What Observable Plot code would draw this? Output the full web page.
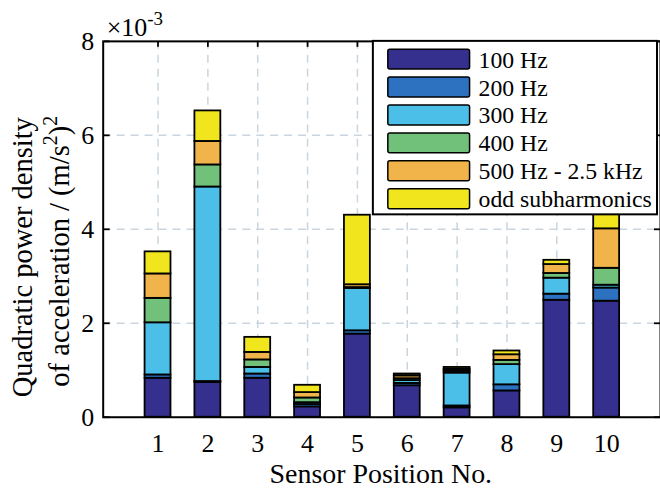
<!DOCTYPE html>
<html><head><meta charset="utf-8">
<script src="https://cdn.jsdelivr.net/npm/d3@7"></script>
<script src="https://cdn.jsdelivr.net/npm/@observablehq/plot@0.6"></script>
<style>
html,body{margin:0;padding:0;background:#fff;overflow:hidden;width:660px;height:489px;}
</style></head><body><div id="chart"></div>
<script>
// ---- data (values in units of 1e-3 (m/s^2)^2) ----
const positions = [1, 2, 3, 4, 5, 6, 7, 8, 9, 10];
const bands = ["100 Hz", "200 Hz", "300 Hz", "400 Hz", "500 Hz - 2.5 kHz", "odd subharmonics"];
const hz100 = [0.83, 0.74, 0.83, 0.22, 1.77, 0.67, 0.20, 0.56, 2.49, 2.47];
const hz200 = [0.07, 0.02, 0.09, 0.05, 0.07, 0.05, 0.04, 0.13, 0.13, 0.28];
const hz300 = [1.11, 4.14, 0.14, 0.04, 0.90, 0.06, 0.70, 0.43, 0.34, 0.06];
const hz400 = [0.52, 0.47, 0.16, 0.10, 0.02, 0.04, 0.04, 0.09, 0.10, 0.36];
const hz500 = [0.52, 0.50, 0.16, 0.115, 0.06, 0.06, 0.04, 0.12, 0.19, 0.84];
const oddSub = [0.47, 0.65, 0.32, 0.155, 1.48, 0.04, 0.04, 0.08, 0.09, 0.45];
const yTicks = [0, 2, 4, 6, 8];
const yGrid = [2, 4, 6];
const colors = ["#35308e", "#2d72c0", "#4cbfe9", "#72c17a", "#f0b44a", "#f1e51d"];

const series = [hz100, hz200, hz300, hz400, hz500, oddSub];
const table = positions.flatMap((p, i) => bands.map((b, j) => ({pos: p, band: b, value: series[j][i]})));

const font = "'Liberation Serif','Times New Roman',serif";
const gridColor = "#c9d6df";
const noLabel = () => "";

const plot = Plot.plot({
  width: 662, height: 489,
  marginLeft: 103, marginRight: 0, marginTop: 41, marginBottom: 71,
  style: {fontFamily: font, fontSize: "26px", background: "white", overflow: "visible", color: "black"},
  x: {type: "band", domain: positions, paddingInner: 0.49, paddingOuter: 0.745, label: null},
  y: {domain: [0, 8], label: null},
  color: {domain: bands, range: colors},
  marks: [
    Plot.gridY(yGrid, {stroke: gridColor, strokeOpacity: 1, strokeWidth: 1.5, strokeDasharray: "8,6"}),
    Plot.gridX(positions, {stroke: gridColor, strokeOpacity: 1, strokeWidth: 1.5, strokeDasharray: "8,6"}),
    Plot.barY(table, {x: "pos", y: "value", fill: "band", stroke: "black", strokeWidth: 1.8}),
    Plot.frame({stroke: "black", strokeWidth: 2}),
    Plot.axisX({anchor: "bottom", tickSize: 0, tickPadding: 16, label: null}),
    Plot.axisX({anchor: "bottom", frameAnchor: "top", tickSize: 6, tickFormat: noLabel, label: null, strokeWidth: 1.8}),
    Plot.axisY(yTicks, {anchor: "left", tickSize: 0, tickPadding: 9, label: null}),
    Plot.axisY(yTicks, {anchor: "right", frameAnchor: "left", tickSize: 6, tickFormat: noLabel, label: null, strokeWidth: 1.8}),
    Plot.axisY(yTicks, {anchor: "left", frameAnchor: "right", tickSize: 6, tickFormat: noLabel, label: null, strokeWidth: 1.8})
  ]
});

const svg = d3.select(plot);

// exponent
const ex = svg.append("text").attr("x", 107).attr("y", 36).attr("font-size", 26)
  .attr("font-family", font).attr("text-anchor", "start");
ex.append("tspan").text("×10");
ex.append("tspan").attr("font-size", 19).attr("dy", -11).text("-3");

// y label
svg.append("text").attr("transform", "translate(32,258) rotate(-90)").attr("text-anchor", "middle")
  .attr("font-size", 28.6).attr("font-family", font).text("Quadratic power density");
const yl2 = svg.append("text").attr("transform", "translate(69,252) rotate(-90)").attr("text-anchor", "middle")
  .attr("font-size", 28.6).attr("font-family", font);
yl2.append("tspan").text("of acceleration / (m/s");
yl2.append("tspan").attr("font-size", 20).attr("dy", -12).text("2");
yl2.append("tspan").attr("dy", 12).text(")");
yl2.append("tspan").attr("font-size", 20).attr("dy", -12).text("2");

// x label
svg.append("text").attr("x", 382).attr("y", 484).attr("text-anchor", "middle")
  .attr("font-size", 28).attr("font-family", font).text("Sensor Position No.");

// legend
const color = plot.scale("color");
const lg = svg.append("g");
lg.append("rect").attr("x", 374).attr("y", 41).attr("width", 285).attr("height", 174)
  .attr("fill", "white").attr("stroke", "black").attr("stroke-width", 2);
bands.forEach((b, i) => {
  const cy = 59.3 + i * 28;
  lg.append("rect").attr("x", 389).attr("y", cy - 10).attr("width", 82).attr("height", 20).attr("rx", 2)
    .attr("fill", color.apply(b)).attr("stroke", "black").attr("stroke-width", 1.5);
  lg.append("text").attr("x", 480).attr("y", cy + 8.5).attr("font-size", 23.8).attr("font-family", font)
    .attr("text-anchor", "start").text(b);
});

document.getElementById("chart").appendChild(plot);
</script>
</body></html>
